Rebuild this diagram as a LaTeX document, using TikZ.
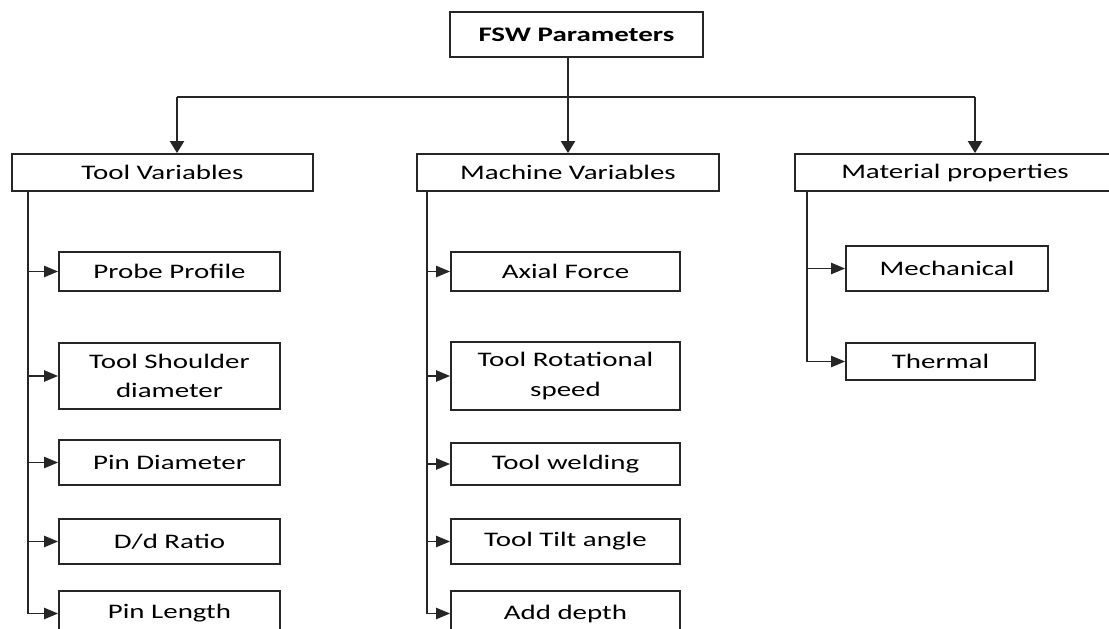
\documentclass[tikz,border=0pt]{standalone}
\usepackage{fontspec}
\setmainfont{Carlito}[FakeStretch=1.4]
\usetikzlibrary{arrows.meta}
\newcommand{\pxu}{0.025cm}

\begin{document}
\begin{tikzpicture}[x=0.025cm,y=-0.025cm,
    box/.style={draw=black!85,line width=1.3pt,inner sep=0pt,align=center,
      font=\fontsize{14.7}{21}\selectfont},
    boldbox/.style={box,font=\fontsize{14.7}{21}\selectfont\bfseries},
    link/.style={draw=black!85,line width=1.3pt},
    down/.style={link,-{Triangle[length=8.5pt,width=10pt]}},
    tobox/.style={link,-{Triangle[length=10pt,width=8pt]}}]
    \useasboundingbox (0,0) rectangle (1109,629);
    \clip (0,0) rectangle (1109,629);
    % 顶层
    \node[boldbox,minimum width=253*\pxu,minimum height=45*\pxu] (fsw) at (576.5,34.5) {FSW Parameters};
    % 三个分类
    \node[box,minimum width=301*\pxu,minimum height=37*\pxu] (tv) at (162.5,172.5) {Tool Variables};
    \node[box,minimum width=302*\pxu,minimum height=37*\pxu] (mv) at (568,172.5) {Machine Variables};
    \node[box,minimum width=320*\pxu,minimum height=37*\pxu] (mp) at (955,172.5) {Material properties};
    % 工具变量
    \node[box,minimum width=221*\pxu,minimum height=39*\pxu] (pp) at (169.5,271.5) {Probe Profile};
    \node[box,minimum width=221*\pxu,minimum height=66*\pxu] (tsd) at (169.5,376) {Tool Shoulder\\diameter};
    \node[box,minimum width=221*\pxu,minimum height=45*\pxu] (pd) at (169.5,462.5) {Pin Diameter};
    \node[box,minimum width=221*\pxu,minimum height=45*\pxu] (dr) at (169.5,541.5) {D/d Ratio};
    \node[box,minimum width=221*\pxu,minimum height=45*\pxu] (pl) at (169.5,613.5) {Pin Length};
    % 机器变量
    \node[box,minimum width=229*\pxu,minimum height=39*\pxu] (af) at (565.5,271.5) {Axial Force};
    \node[box,minimum width=229*\pxu,minimum height=68*\pxu] (trs) at (565.5,376) {Tool Rotational\\speed};
    \node[box,minimum width=229*\pxu,minimum height=42*\pxu] (tw) at (565.5,464) {Tool welding};
    \node[box,minimum width=229*\pxu,minimum height=45*\pxu] (tta) at (565.5,541.5) {Tool Tilt angle};
    \node[box,minimum width=229*\pxu,minimum height=45*\pxu] (ad) at (565.5,613.5) {Add depth};
    % 材料性能
    \node[box,minimum width=202*\pxu,minimum height=45*\pxu] (mech) at (947,268.5) {Mechanical};
    \node[box,minimum width=189*\pxu,minimum height=37*\pxu] (th) at (940.5,361.5) {Thermal};
    % 顶层连线
    \coordinate (busl) at (177,97);
    \coordinate (busr) at (975,97);
    \draw[link] (busl) -- (busr);
    \draw[down] (busl) -- (busl |- tv.north);
    \draw[down] (busr) -- (busr |- mp.north);
    \draw[down] (fsw.south -| mv.north) -- (mv.north);
    % 竖线
    \coordinate (tvt) at (28,0);
    \coordinate (mvt) at (427,0);
    \coordinate (mpt) at (807,0);
    \draw[tobox] (tv.south -| tvt) |- (pl.west);
    \draw[tobox] (tvt |- pp.west) -- (pp.west);
    \draw[tobox] (tvt |- tsd.west) -- (tsd.west);
    \draw[tobox] (tvt |- pd.west) -- (pd.west);
    \draw[tobox] (tvt |- dr.west) -- (dr.west);
    \draw[tobox] (mv.south -| mvt) |- (ad.west);
    \draw[tobox] (mvt |- af.west) -- (af.west);
    \draw[tobox] (mvt |- trs.west) -- (trs.west);
    \draw[tobox] (mvt |- tw.west) -- (tw.west);
    \draw[tobox] (mvt |- tta.west) -- (tta.west);
    \draw[tobox] (mp.south -| mpt) |- (th.west);
    \draw[tobox] (mpt |- mech.west) -- (mech.west);
\end{tikzpicture}
\end{document}
